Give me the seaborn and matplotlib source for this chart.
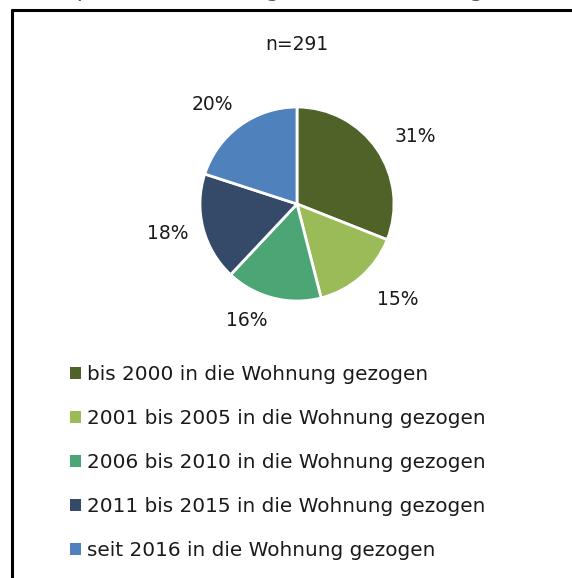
import matplotlib
matplotlib.use("Agg")
import matplotlib.pyplot as plt
from matplotlib.lines import Line2D
from matplotlib.patches import Patch
import seaborn as sns

# Wohndauer der Befragten (Anteile in %)
categories = [
    "bis 2000 in die Wohnung gezogen",
    "2001 bis 2005 in die Wohnung gezogen",
    "2006 bis 2010 in die Wohnung gezogen",
    "2011 bis 2015 in die Wohnung gezogen",
    "seit 2016 in die Wohnung gezogen",
]
shares = [31, 15, 16, 18, 20]
sample_note = "n=291"
title = "Zeitpunkt des Einzugs in die Wohnung"

colors = ["#4F6228", "#9BBB59", "#4BA574", "#344A68", "#4F81BD"]
# fine nudges of the percentage labels (pixels, x right / y down)
label_nudges = [(8, 8), (12, -5), (-17, -13), (0, -4), (-6, 9)]

sns.set_theme(style="white")
plt.rcParams["font.family"] = ["DejaVu Sans"]

W, H = 572, 578
fig = plt.figure(figsize=(W / 100, H / 100), dpi=100)
fig.patch.set_facecolor("white")

def fx(px):
    return px / W

def fy(py):
    return 1 - py / H

# Pie axes: center (297, 204), radius ~97 px
cx, cy, r = 297, 204, 97
ax = fig.add_axes([fx(cx - r), fy(cy + r), 2 * r / W, 2 * r / H])
wedges, _, pct_texts = ax.pie(
    shares,
    colors=colors,
    startangle=90,
    counterclock=False,
    autopct="%.0f%%",
    pctdistance=1.38,
    wedgeprops=dict(edgecolor="white", linewidth=2),
    textprops=dict(fontsize=13.5, color="#1a1a1a"),
    radius=1.0,
)
ax.set_xlim(-1, 1)
ax.set_ylim(-1, 1)
ax.set_aspect("auto")
for t, (dx, dy) in zip(pct_texts, label_nudges):
    x, y = t.get_position()
    t.set_position((x + dx / r, y - dy / r))

# Sample size
fig.text(fx(297), fy(45), sample_note, ha="center", va="center",
         fontsize=13.5, color="#1a1a1a")

# Title, running off the top edge
fig.text(fx(30), fy(-4), title, ha="left", va="baseline",
         fontsize=17, color="#555555")

# Frame lines (left and top)
fig.add_artist(Line2D([fx(12), fx(12)], [fy(10), 0], color="black",
                      linewidth=2.2, transform=fig.transFigure))
fig.add_artist(Line2D([fx(12), 1], [fy(10), fy(10)], color="black",
                      linewidth=2.2, transform=fig.transFigure))

# Legend
handles = [Patch(facecolor=c, edgecolor="none") for c in colors]
leg = fig.legend(
    handles, categories,
    loc="upper left",
    bbox_to_anchor=(fx(52), fy(347)),
    frameon=False,
    fontsize=14.4,
    handlelength=0.55,
    handleheight=0.55,
    handletextpad=0.3,
    labelspacing=1.25,
)
for t in leg.get_texts():
    t.set_color("#1a1a1a")

fig.savefig("out.png", dpi=100, facecolor="white")
